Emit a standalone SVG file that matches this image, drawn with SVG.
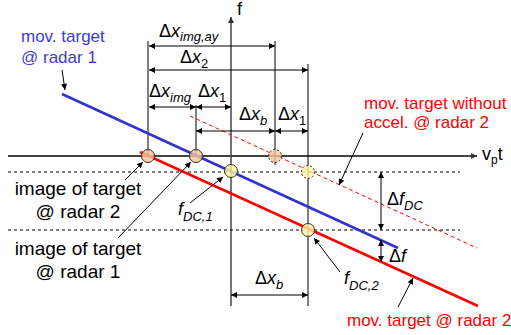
<svg xmlns="http://www.w3.org/2000/svg" width="511" height="335" viewBox="0 0 511 335">
<defs>
<marker id="ah" viewBox="0 0 10 10" refX="10" refY="5" markerWidth="7" markerHeight="6" markerUnits="userSpaceOnUse" orient="auto-start-reverse">
<path d="M0,0 L10,5 L0,10 z" fill="#000"/>
</marker>
<marker id="ahg" viewBox="0 0 10 10" refX="10" refY="5" markerWidth="7" markerHeight="6" markerUnits="userSpaceOnUse" orient="auto-start-reverse">
<path d="M0,0 L10,5 L0,10 z" fill="#333"/>
</marker>
</defs>
<style>
text{font-family:"Liberation Sans",Arial,sans-serif;}
.big{font-size:18px;}
.blk{font-size:19px;}
.col{font-size:17px;}
.sub{font-size:13px;font-style:italic;}
.it{font-style:italic;}
.vline{stroke:#000;stroke-width:1;fill:none;}
.dim{stroke:#000;stroke-width:1;fill:none;marker-start:url(#ah);marker-end:url(#ah);}
.ptr{stroke:#000;stroke-width:1;fill:none;marker-end:url(#ah);}
.hdash{stroke:#000;stroke-width:1;stroke-dasharray:3,3;fill:none;}
.orange{fill:#f4c4a0;fill-opacity:0.8;stroke:#3a2a1a;stroke-width:1;}
.yellow{fill:#fcf4a4;fill-opacity:0.8;stroke:#3a3a1a;stroke-width:1;}
.dc{stroke-dasharray:2,2;}
</style>
<rect width="511" height="335" fill="#fff"/>
<g id="axes">
<line x1="8" y1="156" x2="477" y2="156" stroke="#444" stroke-width="2" marker-end="url(#ahg)"/>
<line x1="231" y1="306" x2="231" y2="17" stroke="#444" stroke-width="1.5" marker-end="url(#ahg)"/>
<text x="237" y="15" class="big">f</text>
<text x="482" y="160" class="big">v<tspan font-size="12" dy="4">p</tspan><tspan dy="-4">t</tspan></text>
</g>
<g id="guides">
<line class="vline" x1="148" y1="41" x2="148" y2="156"/>
<line class="vline" x1="196" y1="105" x2="196" y2="156"/>
<line class="vline" x1="275" y1="41" x2="275" y2="165"/>
<line class="vline" x1="308" y1="64" x2="308" y2="306"/>
<line class="hdash" x1="8" y1="172" x2="460" y2="172"/>
<line class="hdash" x1="8" y1="230" x2="460" y2="230"/>
</g>
<g id="curves">
<line id="blue-line" x1="62" y1="94" x2="398" y2="248" stroke="#3333cc" stroke-width="2.5"/>
<line id="red-line" x1="140" y1="152" x2="478" y2="306" stroke="#ff0000" stroke-width="2.5"/>
<line id="red-dashed" x1="190" y1="116" x2="477" y2="248" stroke="#ff0000" stroke-width="1" stroke-dasharray="4,3"/>
</g>
<g id="points">
<circle class="orange" cx="148" cy="156" r="6.5"/>
<circle class="orange" cx="196" cy="156" r="6.5"/>
<circle class="orange dc" cx="275" cy="156" r="6.5"/>
<circle class="yellow" cx="231" cy="171" r="6.5"/>
<circle class="yellow dc" cx="308" cy="172" r="6.5"/>
<circle class="yellow" cx="308" cy="230" r="6.5"/>
</g>
<g id="connectors">
<line class="dim" x1="149" y1="46" x2="275" y2="46"/>
<line class="dim" x1="149" y1="70" x2="308" y2="70"/>
<line class="dim" x1="149" y1="107" x2="196" y2="107"/>
<line class="dim" x1="196" y1="107" x2="231" y2="107"/>
<line class="dim" x1="196" y1="131" x2="275" y2="131"/>
<line class="dim" x1="275" y1="131" x2="308" y2="131"/>
<line class="dim" x1="231" y1="295" x2="308" y2="295"/>
<line class="dim" x1="381" y1="172" x2="381" y2="230" stroke="#333"/>
<line class="dim" x1="381" y1="240" x2="381" y2="262"/>
<line class="ptr" x1="62" y1="70" x2="65" y2="90"/>
<line class="ptr" x1="125" y1="180" x2="143" y2="162"/>
<line class="ptr" x1="118" y1="238" x2="191" y2="162"/>
<line class="ptr" x1="190" y1="203" x2="223" y2="177"/>
<line class="ptr" x1="340" y1="272" x2="314" y2="238"/>
<line class="ptr" x1="398" y1="307" x2="413" y2="278"/>
<line class="ptr" x1="363" y1="133" x2="339" y2="185"/>
</g>
<g id="dim-labels" class="big">
<text x="159" y="37">Δ<tspan class="it">x</tspan><tspan class="sub" dy="4">img,ay</tspan></text>
<text x="180" y="63">Δ<tspan class="it">x</tspan><tspan font-size="13" dy="5">2</tspan></text>
<text x="149" y="97">Δ<tspan class="it">x</tspan><tspan class="sub" dy="5">img</tspan></text>
<text x="198" y="97">Δ<tspan class="it">x</tspan><tspan font-size="13" dy="5">1</tspan></text>
<text x="239" y="120">Δ<tspan class="it">x</tspan><tspan class="sub" dy="5">b</tspan></text>
<text x="278" y="120">Δ<tspan class="it">x</tspan><tspan font-size="13" dy="5">1</tspan></text>
<text x="255" y="284">Δ<tspan class="it">x</tspan><tspan class="sub" dy="5">b</tspan></text>
<text x="387" y="205">Δ<tspan class="it">f</tspan><tspan class="sub" dy="5">DC</tspan></text>
<text x="389" y="262">Δ<tspan class="it">f</tspan></text>
<text x="178" y="215"><tspan class="it">f</tspan><tspan class="sub" dy="6">DC,1</tspan></text>
<text x="344" y="284"><tspan class="it">f</tspan><tspan class="sub" dy="6">DC,2</tspan></text>
</g>
<g id="label-target1" class="col" fill="#3c3cd8">
<text x="21" y="42">mov. target</text>
<text x="21" y="63">@ radar 1</text>
</g>
<g id="label-noaccel" class="col" fill="#ff0000">
<text x="364" y="109">mov. target without</text>
<text x="364" y="128">accel. @ radar 2</text>
</g>
<g id="label-target2" class="col" fill="#ff0000">
<text x="347" y="326">mov. target @ radar 2</text>
</g>
<g id="label-image2" class="blk" text-anchor="middle">
<text x="78" y="195">image of target</text>
<text x="78" y="218">@ radar 2</text>
</g>
<g id="label-image1" class="blk" text-anchor="middle">
<text x="78" y="255">image of target</text>
<text x="78" y="278">@ radar 1</text>
</g>
</svg>
